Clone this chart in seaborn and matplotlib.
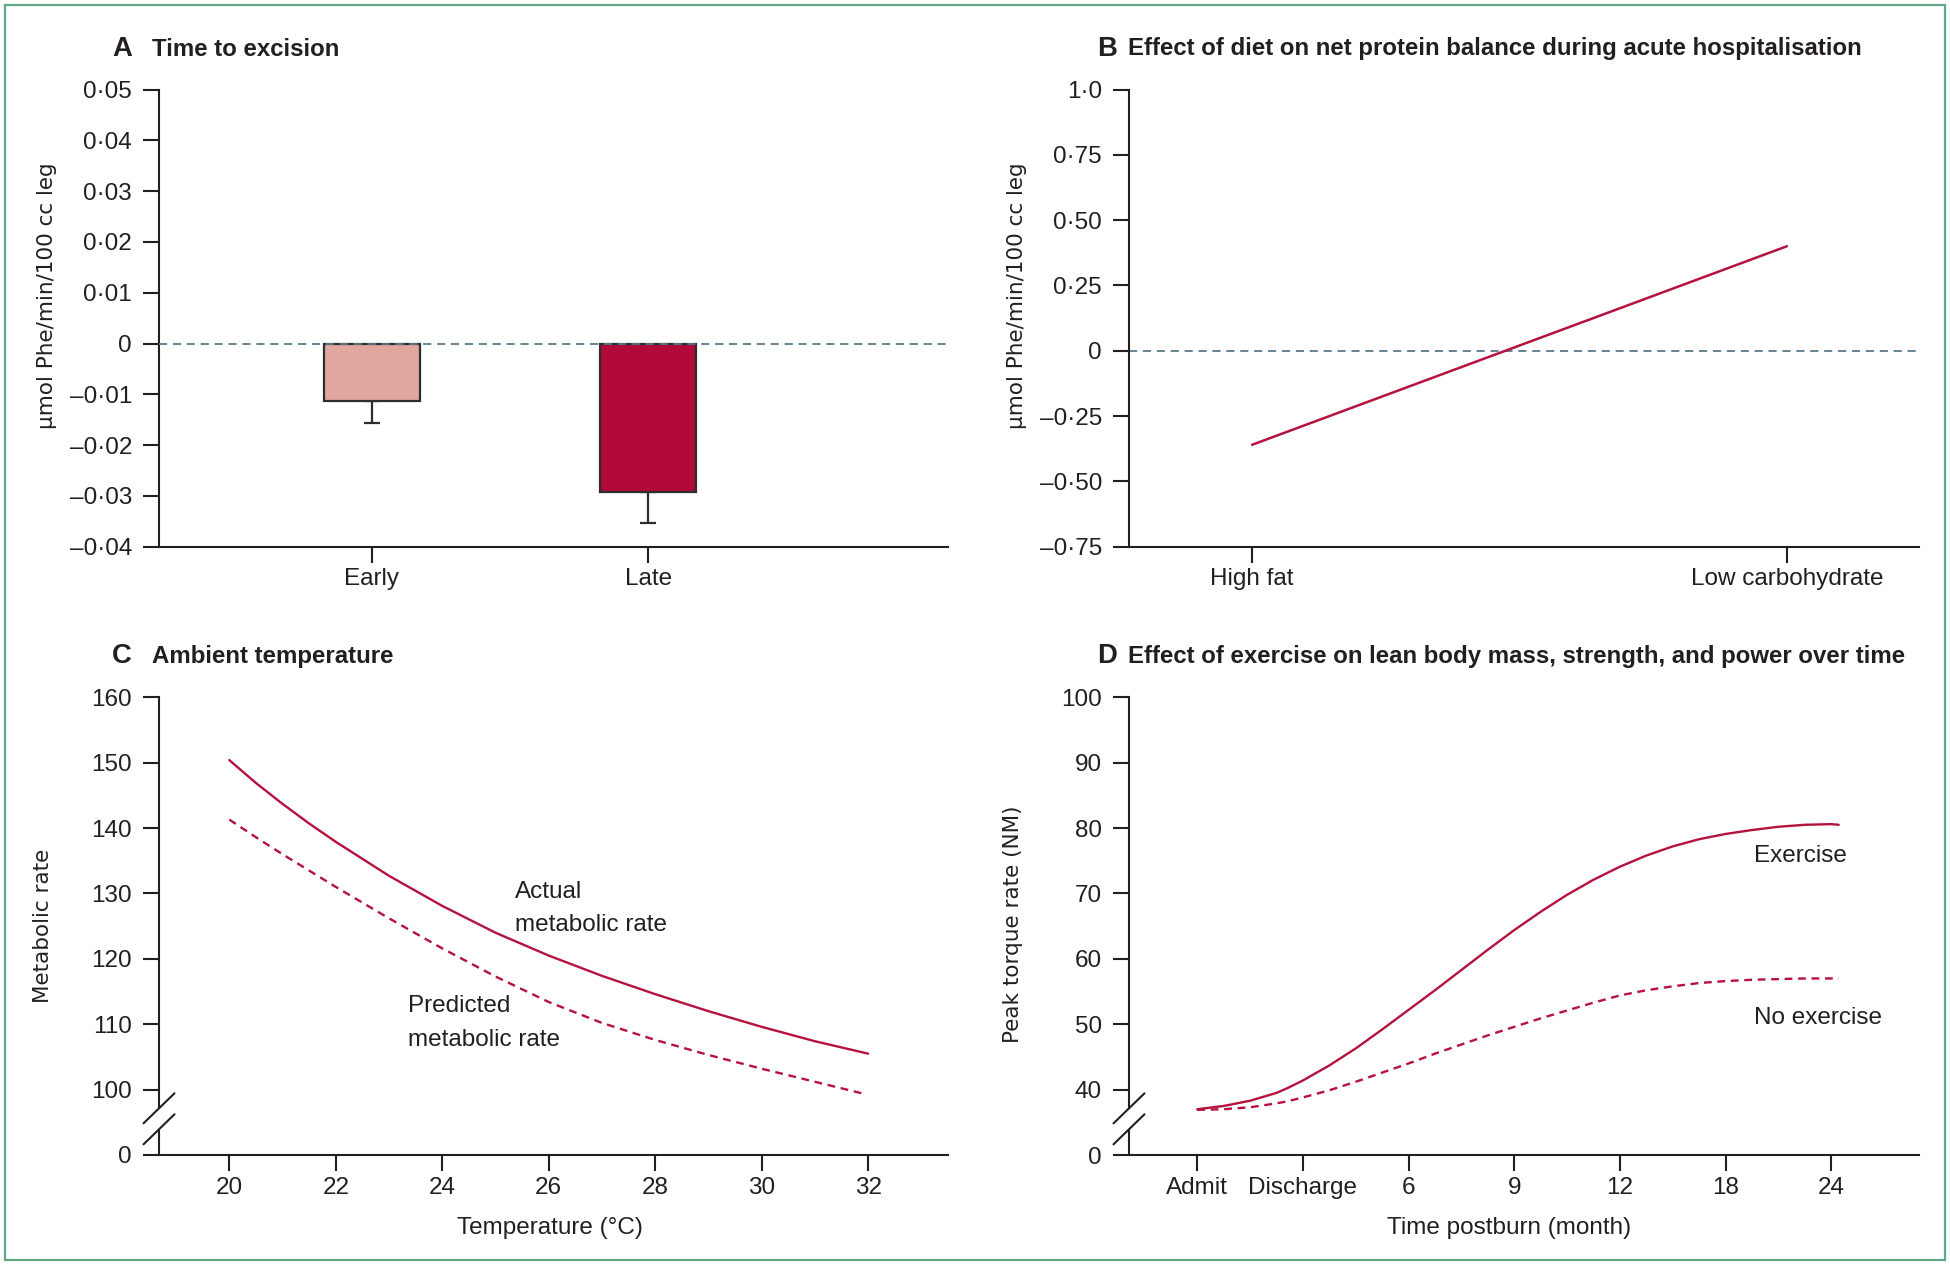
import matplotlib
matplotlib.use("Agg")
import matplotlib.pyplot as plt
import matplotlib.transforms as mtrans
from matplotlib.patches import Rectangle
from matplotlib import font_manager as fm
import seaborn as sns

# ---------------- data ----------------
excision_cats = ["Early", "Late"]
excision_vals = [-0.0114, -0.0293]
excision_err = [0.0043, 0.0061]
excision_colors = ["#e0a7a1", "#b0093a"]
a_ticks = [-0.04, -0.03, -0.02, -0.01, 0, 0.01, 0.02, 0.03, 0.04, 0.05]
a_tick_labels = ["–0·04", "–0·03", "–0·02", "–0·01", "0", "0·01", "0·02", "0·03", "0·04", "0·05"]

diet_cats = ["High fat", "Low carbohydrate"]
diet_vals = [-0.36, 0.40]
b_ticks = [-0.75, -0.5, -0.25, 0, 0.25, 0.5, 0.75, 1.0]
b_tick_labels = ["–0·75", "–0·50", "–0·25", "0", "0·25", "0·50", "0·75", "1·0"]

temp_c = [20, 20.5, 21, 21.5, 22, 23, 24, 25, 26, 27, 28, 29, 30, 31, 32]
actual_rate = [150.4, 146.9, 143.7, 140.7, 137.9, 132.7, 128.1, 124.0, 120.5, 117.4, 114.6,
               112.0, 109.6, 107.4, 105.5]
predicted_temp = [20, 20.5, 21, 21.5, 22, 23, 24, 25, 26, 27, 28, 29, 30, 31, 31.9]
predicted_rate = [141.3, 138.6, 136.0, 133.5, 131.0, 126.2, 121.6, 117.3, 113.4, 110.2, 107.6,
                  105.3, 103.2, 101.2, 99.4]
c_ticks = [90, 100, 110, 120, 130, 140, 150, 160]
c_tick_labels = ["0", "100", "110", "120", "130", "140", "150", "160"]
c_xticks = [20, 22, 24, 26, 28, 30, 32]

time_labels = ["Admit", "Discharge", "6", "9", "12", "18", "24"]
time_pos = [0, 0.25, 0.5, 0.75, 0.85, 1.0, 1.25, 1.5, 1.75, 2.0, 2.25, 2.5, 2.75, 3.0,
            3.25, 3.5, 3.75, 4.0, 4.25, 4.5, 4.75, 5.0, 5.25, 5.5, 5.75, 6.0, 6.07]
exercise = [37.0, 37.5, 38.3, 39.5, 40.2, 41.4, 43.7, 46.3, 49.2, 52.2, 55.2, 58.3, 61.4, 64.4,
            67.2, 69.8, 72.1, 74.1, 75.8, 77.2, 78.3, 79.1, 79.7, 80.2, 80.5, 80.6, 80.5]
no_exercise = [36.9, 37.0, 37.3, 37.9, 38.2, 38.8, 39.9, 41.2, 42.6, 44.0, 45.5, 46.9, 48.3, 49.6,
               50.9, 52.1, 53.3, 54.4, 55.2, 55.8, 56.3, 56.6, 56.8, 56.9, 57.0, 57.0, 57.0]
d_ticks = [30, 40, 50, 60, 70, 80, 90, 100]
d_tick_labels = ["0", "40", "50", "60", "70", "80", "90", "100"]

# ---------------- style ----------------
sns.set_theme(style="ticks")
_avail = {f.name for f in fm.fontManager.ttflist}
REG = "Liberation Sans" if "Liberation Sans" in _avail else "DejaVu Sans"
TITLE_SIZE = 17.3
plt.rcParams["font.family"] = [REG, "DejaVu Sans"]

INK = "#231f20"
RED = "#b5123e"
ZERO = "#5c7a88"
TICK_FS = 17.5
YLAB_FS = 15.5

W, H = 1950, 1265
fig = plt.figure(figsize=(W / 100, H / 100), dpi=100)


def px_axes(x0, y0, x1, y1):
    return fig.add_axes([x0 / W, 1 - y1 / H, (x1 - x0) / W, (y1 - y0) / H])


axA = px_axes(159, 89.5, 948, 546.7)
axB = px_axes(1129, 89.5, 1919, 546.7)
axC = px_axes(159, 697.3, 948, 1155)
axD = px_axes(1129, 697.3, 1919, 1155)


def style(ax):
    sns.despine(ax=ax)
    for s in ("left", "bottom"):
        ax.spines[s].set_linewidth(1.5)
        ax.spines[s].set_color(INK)
    ax.tick_params(length=11.5, width=1.5, color=INK, labelsize=TICK_FS, labelcolor=INK)
    ax.tick_params(axis="y", pad=8)
    ax.tick_params(axis="x", pad=4)
    ax.grid(False)
    ax.set_xlabel("")
    ax.set_ylabel("")


def add_break(ax, y_low, y_high, half_h):
    ymin, ymax = ax.get_ylim()
    ax.spines["left"].set_bounds(y_high, ymax)
    tr = mtrans.blended_transform_factory(ax.transAxes, ax.transData)
    ax.plot([0, 0], [ymin, y_low], transform=tr, color=INK, lw=1.5, clip_on=False,
            solid_capstyle="butt", zorder=5)
    dx = 15.5 / ax.get_window_extent().width * fig.dpi / 100
    for yc in (y_low, y_high):
        ax.plot([-dx, dx], [yc - half_h, yc + half_h], transform=tr, color=INK, lw=1.5,
                clip_on=False, zorder=5)


def title(xl, xt, yb, letter, text):
    fig.text(xl / W, 1 - yb / H, letter, fontsize=TITLE_SIZE + 2.5, fontweight="bold",
             color=INK, va="baseline")
    fig.text(xt / W, 1 - yb / H, text, fontsize=TITLE_SIZE, fontweight="bold",
             color=INK, va="baseline")


def ylabel(x, y, text):
    fig.text(x / W, 1 - y / H, text, rotation=90, ha="center", va="center",
             fontsize=YLAB_FS, family=["DejaVu Sans"], color=INK)


# ---------------- Panel A ----------------
sns.barplot(x=excision_cats, y=excision_vals, hue=excision_cats, palette=excision_colors,
            legend=False, width=0.347, saturation=1, edgecolor="#2e2e2e", linewidth=1.6,
            ax=axA, zorder=2)
axA.errorbar(x=[0, 1], y=excision_vals, yerr=[excision_err, [0, 0]], fmt="none",
             ecolor="#2e2e2e", elinewidth=1.6, capsize=5.8, capthick=1.6, zorder=1)
axA.axhline(0, color=ZERO, lw=1.3, ls=(0, (4.5, 3.2)), zorder=3)
axA.set_ylim(-0.04, 0.05)
axA.set_xlim(-0.769, 2.083)
style(axA)
axA.set_yticks(a_ticks, a_tick_labels)
axA.set_xticks([0, 1], excision_cats)

# ---------------- Panel B ----------------
sns.lineplot(x=diet_cats, y=diet_vals, color=RED, lw=1.8, sort=False, ax=axB)
axB.axhline(0, color=ZERO, lw=1.3, ls=(0, (4.5, 3.2)), zorder=1)
axB.set_ylim(-0.75, 1.0)
axB.set_xlim(-0.23, 1.247)
style(axB)
axB.set_yticks(b_ticks, b_tick_labels)
axB.set_xticks([0, 1], diet_cats)

# ---------------- Panel C ----------------
sns.lineplot(x=temp_c, y=actual_rate, color=RED, lw=1.7, sort=False, ax=axC)
sns.lineplot(x=predicted_temp, y=predicted_rate, color=RED, lw=1.7, sort=False,
             linestyle=(0, (3.3, 2.4)), ax=axC)
axC.set_ylim(90, 160)
axC.set_xlim(18.68, 33.5)
style(axC)
axC.set_yticks(c_ticks, c_tick_labels)
axC.set_xticks(c_xticks, [str(t) for t in c_xticks])
add_break(axC, 93.93, 97.14, 2.3)
axC.text(25.36, 129.3, "Actual", fontsize=TICK_FS, color=INK, va="baseline")
axC.text(25.36, 124.26, "metabolic rate", fontsize=TICK_FS, color=INK, va="baseline")
axC.text(23.35, 111.8, "Predicted", fontsize=TICK_FS, color=INK, va="baseline")
axC.text(23.35, 106.6, "metabolic rate", fontsize=TICK_FS, color=INK, va="baseline")

# ---------------- Panel D ----------------
sns.lineplot(x=time_pos, y=exercise, color=RED, lw=1.7, sort=False, ax=axD)
sns.lineplot(x=time_pos, y=no_exercise, color=RED, lw=1.7, sort=False,
             linestyle=(0, (3.3, 2.4)), ax=axD)
axD.set_ylim(30, 100)
axD.set_xlim(-0.646, 6.83)
style(axD)
axD.set_yticks(d_ticks, d_tick_labels)
axD.set_xticks(range(len(time_labels)), time_labels)
add_break(axD, 33.93, 37.14, 2.3)
axD.text(5.267, 74.8, "Exercise", fontsize=TICK_FS, color=INK, va="baseline")
axD.text(5.267, 50.0, "No exercise", fontsize=TICK_FS, color=INK, va="baseline")

# ---------------- titles and labels ----------------
title(112, 152, 55.5, "A", "Time to excision")
title(1097, 1128, 55.5, "B", "Effect of diet on net protein balance during acute hospitalisation")
title(112, 152, 663, "C", "Ambient temperature")
title(1097, 1128, 663, "D", "Effect of exercise on lean body mass, strength, and power over time")

ylabel(47, 296, "µmol Phe/min/100 cc leg")
ylabel(1017, 296, "µmol Phe/min/100 cc leg")
ylabel(43, 926, "Metabolic rate")
ylabel(1013, 924, "Peak torque rate (NM)")

fig.text(550 / W, 1 - 1234 / H, "Temperature (°C)", ha="center", va="baseline",
         fontsize=TICK_FS, color=INK)
fig.text(1509 / W, 1 - 1234 / H, "Time postburn (month)", ha="center", va="baseline",
         fontsize=TICK_FS, color=INK)

# border
fig.add_artist(Rectangle((5 / W, 5 / H), (1945 - 5) / W, (1260 - 5) / H,
                         transform=fig.transFigure, fill=False, ec="#5fa985", lw=1.6))

fig.savefig("out.png", dpi=100)
